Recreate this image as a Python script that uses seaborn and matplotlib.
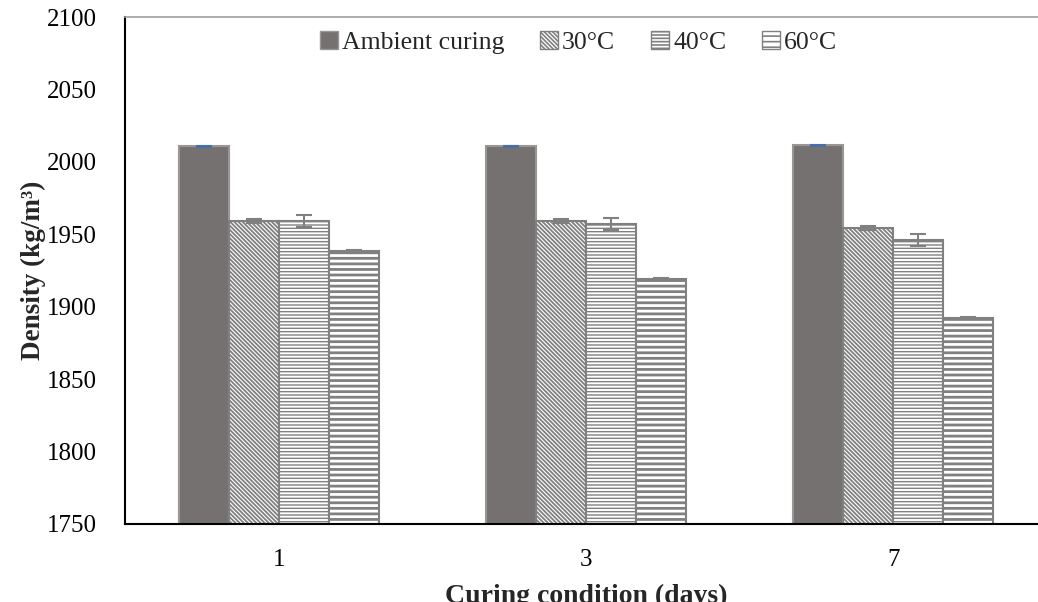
import matplotlib
matplotlib.use("Agg")
import matplotlib.pyplot as plt
from matplotlib.patches import Patch
import pandas as pd
import seaborn as sns

# Curing age (days) and curing regimes
days = ["1", "3", "7"]
conditions = ["Ambient curing", "30°C", "40°C", "60°C"]

# Mean density (kg/m³) per curing regime
ambient = [2010.8, 2010.8, 2011.3]
c30 = [1959.2, 1959.1, 1954.2]
c40 = [1959.1, 1957.0, 1946.0]
c60 = [1938.2, 1919.0, 1892.4]

# Standard deviations
err_ambient = [0.4, 0.4, 0.4]
err_30 = [1.4, 1.4, 1.4]
err_40 = [4.1, 4.3, 4.2]
err_60 = [0.8, 0.7, 0.5]

means = [ambient, c30, c40, c60]
errors = [err_ambient, err_30, err_40, err_60]

df = pd.DataFrame({
    "day": [d for _ in conditions for d in days],
    "condition": [c for c in conditions for _ in days],
    "density": [v for series in means for v in series],
})

sns.set_theme(style="white")
plt.rcParams["font.family"] = ["Liberation Serif", "DejaVu Serif"]
plt.rcParams["hatch.linewidth"] = 1.2
plt.rcParams["hatch.color"] = "#808080"

BACKSLASH = chr(92)
fills = ["#767171", "white", "white", "white"]
edges = ["#9a9696", "#808080", "#808080", "#808080"]
hatches = [None, BACKSLASH * 8, "-" * 5, "-" * 3]
hatch_widths = [1.0, 1.3, 1.0, 2.0]
err_colors = ["#4a6fa5", "#808080", "#808080", "#808080"]


def style_patch(p, ec, hatch, hlw):
    p.set_edgecolor(ec)
    if hatch:
        p.set_hatch(hatch)
        if hasattr(p, "set_hatch_linewidth"):
            p.set_hatch_linewidth(hlw)


fig = plt.figure(figsize=(10.38, 6.02), dpi=100)
# the frame extends slightly past the right edge of the canvas
ax = fig.add_axes([125 / 1038, 1 - 524 / 602, (1047 - 125) / 1038, (524 - 17) / 602])

sns.barplot(
    data=df, x="day", y="density", hue="condition",
    order=days, hue_order=conditions,
    palette=dict(zip(conditions, fills)), saturation=1,
    width=0.65, errorbar=None, legend=False, ax=ax,
)

for cont, ec, hatch, hlw, err, ecol in zip(ax.containers, edges, hatches,
                                            hatch_widths, errors, err_colors):
    xs, ys = [], []
    for bar in cont.patches:
        style_patch(bar, ec, hatch, hlw)
        bar.set_linewidth(1.5)
        xs.append(bar.get_x() + bar.get_width() / 2)
        ys.append(bar.get_height())
    ax.errorbar(xs, ys, yerr=err, fmt="none", ecolor=ecol,
                elinewidth=1.5, capsize=6, capthick=1.5, zorder=3)

ax.set_ylim(1750, 2100)
ax.set_yticks(range(1750, 2101, 50))
ax.set_xlim(-0.5, 2.5)

for side in ["left", "bottom"]:
    ax.spines[side].set_color("black")
    ax.spines[side].set_linewidth(1.5)
for side in ["top", "right"]:
    ax.spines[side].set_color("#a0a0a0")
    ax.spines[side].set_linewidth(1.2)

ax.tick_params(axis="both", length=0, labelsize=18, colors="black")
ax.tick_params(axis="y", pad=20)
ax.tick_params(axis="x", pad=18)

ax.set_ylabel("Density (kg/m³)", fontsize=19.5, fontweight="bold")
ax.set_xlabel("Curing condition (days)", fontsize=20, fontweight="bold")
ax.yaxis.set_label_coords(-0.086, 0.5)
ax.xaxis.set_label_coords(0.5, -0.118)

handles = []
for f, e, h, hlw in zip(fills, edges, hatches, hatch_widths):
    p = Patch(facecolor=f, linewidth=1.0)
    style_patch(p, e, h, hlw)
    handles.append(p)
ax.legend(
    handles, conditions, loc="center", bbox_to_anchor=(0.492, 0.95),
    ncol=4, frameon=False, fontsize=18.5, handlelength=0.7, handleheight=0.7,
    handletextpad=0.15, columnspacing=1.4,
)

fig.savefig("out.png", dpi=100)
